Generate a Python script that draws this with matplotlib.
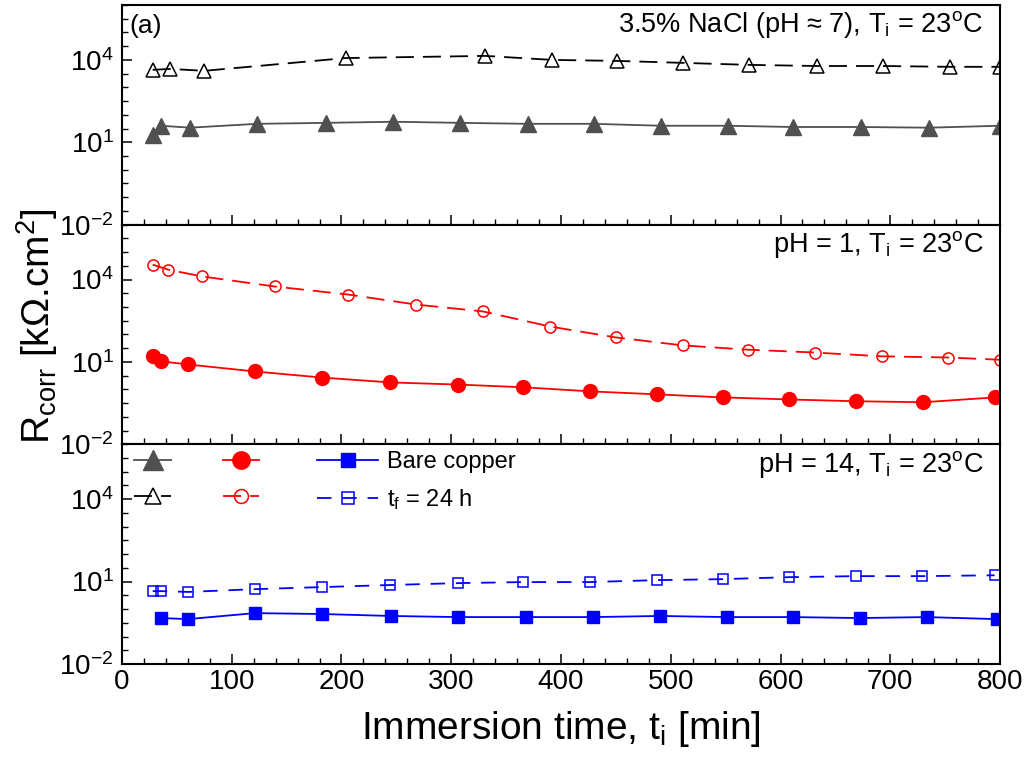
import matplotlib
matplotlib.use("Agg")
import matplotlib.pyplot as plt
from matplotlib.ticker import FixedLocator, MultipleLocator, NullFormatter

plt.rcParams["font.family"] = ["Liberation Sans", "DejaVu Sans"]
plt.rcParams["mathtext.fontset"] = "custom"
plt.rcParams["mathtext.rm"] = "Liberation Sans"
plt.rcParams["mathtext.it"] = "Liberation Sans:italic"

# --- data (R_corr in kOhm.cm2 vs immersion time in min) ---
# 3.5% NaCl
t_nacl_bare = [28, 36, 62, 123, 186, 247, 308, 370, 430, 491, 552, 611, 673, 735, 800]
r_nacl_bare = [18.7, 40, 34, 47, 51, 56, 51, 47, 47, 40, 40, 36, 36, 34, 40]
t_nacl_24h = [28, 44, 75, 204, 331, 392, 451, 511, 571, 633, 693, 754, 800]
r_nacl_24h = [4350, 4700, 4000, 11700, 14000, 10000, 9200, 7800, 6600, 6000, 6000, 5600, 5600]

# pH 1
t_ph1_bare = [28, 36, 60, 121, 182, 244, 306, 365, 426, 487, 548, 608, 669, 730, 795]
r_ph1_bare = [16, 10.5, 8.1, 4.5, 2.7, 1.8, 1.5, 1.2, 0.85, 0.66, 0.51, 0.43, 0.37, 0.34, 0.51]
t_ph1_24h = [28, 42, 73, 139, 206, 268, 329, 390, 450, 511, 570, 631, 692, 753, 800]
r_ph1_24h = [35000, 23000, 13000, 5600, 2850, 1230, 690, 195, 78, 40, 28, 22, 16, 14.5, 12]

# pH 14
t_ph14_bare = [36, 60, 121, 182, 245, 306, 368, 429, 490, 551, 611, 672, 733, 797]
r_ph14_bare = [0.47, 0.43, 0.71, 0.66, 0.56, 0.51, 0.51, 0.51, 0.56, 0.51, 0.51, 0.47, 0.51, 0.43]
t_ph14_24h = [28, 36, 60, 121, 182, 244, 306, 365, 426, 487, 548, 608, 669, 729, 795]
r_ph14_24h = [4.5, 4.5, 4.2, 5.3, 6.3, 7.5, 8.8, 9.6, 9.6, 11.3, 12.3, 14.5, 15.8, 15.8, 17]

PANEL_TEXT = [
    "3.5% NaCl (pH \u2248 7), T$_\\mathregular{i}$ = 23$^\\mathregular{o}$C",
    r"pH = 1, T$_\mathregular{i}$ = 23$^\mathregular{o}$C",
    r"pH = 14, T$_\mathregular{i}$ = 23$^\mathregular{o}$C",
]
Y_MAJOR = [1e-2, 1e1, 1e4]
Y_LABELS = [r"$\mathregular{10^{-2}}$", r"$\mathregular{10^{1}}$", r"$\mathregular{10^{4}}$"]

GRAY = "#505050"
RED = "#ff0000"
BLUE = "#0000ff"
DASH = (10, 5)

fig = plt.figure(figsize=(10.31, 7.57), dpi=100)
gs = fig.add_gridspec(3, 1, left=0.1183, right=0.970, top=0.9934, bottom=0.1229, hspace=0)
axes = [fig.add_subplot(gs[i]) for i in range(3)]

ax0, ax1, ax2 = axes
ax0.plot(t_nacl_bare, r_nacl_bare, color=GRAY, lw=1.3, marker="^", ms=11,
         mfc=GRAY, mec=GRAY, label=" ")
ax0.plot(t_nacl_24h, r_nacl_24h, color="black", lw=1.3, dashes=DASH, marker="^",
         ms=9.5, mfc="none", mec="black", mew=1.1, label=" ")
ax1.plot(t_ph1_bare, r_ph1_bare, color=RED, lw=1.3, marker="o", ms=10,
         mfc=RED, mec=RED, label=" ")
ax1.plot(t_ph1_24h, r_ph1_24h, color=RED, lw=1.3, dashes=DASH, marker="o",
         ms=8, mfc="none", mec=RED, mew=1.1, label=" ")
ax2.plot(t_ph14_bare, r_ph14_bare, color=BLUE, lw=1.3, marker="s", ms=8.5,
         mfc=BLUE, mec=BLUE, label="Bare copper")
ax2.plot(t_ph14_24h, r_ph14_24h, color=BLUE, lw=1.3, dashes=(8, 6), marker="s",
         ms=7, mfc="none", mec=BLUE, mew=1.1, label=r"t$_\mathregular{f}$ = 24 h")

minor_y = [10 ** (k / 2) for k in range(-4, 13) if k % 6 != 2]

for i, ax in enumerate(axes):
    ax.set_yscale("log")
    ax.set_ylim(1e-2, 1e6)
    ax.set_xlim(0, 800)
    ax.yaxis.set_major_locator(FixedLocator(Y_MAJOR))
    ax.set_yticklabels(Y_LABELS)
    ax.yaxis.set_minor_locator(FixedLocator(minor_y))
    ax.yaxis.set_minor_formatter(NullFormatter())
    ax.xaxis.set_major_locator(MultipleLocator(100))
    ax.xaxis.set_minor_locator(MultipleLocator(20))
    ax.tick_params(axis="both", which="both", direction="in", top=False, right=False)
    ax.tick_params(axis="both", which="major", length=7, width=1.1, labelsize=20)
    ax.tick_params(axis="both", which="minor", length=4, width=1.0)
    ax.tick_params(axis="y", which="major", pad=6)
    for sp in ax.spines.values():
        sp.set_linewidth(1.5)
    if i < 2:
        ax.tick_params(axis="x", labelbottom=False)
    ax.text(0.981, 0.91, PANEL_TEXT[i], transform=ax.transAxes, ha="right",
            va="center", fontsize=19.5)

ax0.text(0.009, 0.905, "(a)", transform=ax0.transAxes, ha="left", va="center", fontsize=19)

ax2.set_xlabel(r"Immersion time, t$_\mathregular{i}$ [min]", fontsize=28, labelpad=10)
fig.text(0.036, 0.569, r"R$_\mathregular{corr}$ [k$\Omega$.cm$^\mathregular{2}$]",
         rotation=90, ha="center", va="center", fontsize=28)

# legend: first two columns without text, third column with labels
h0, l0 = ax0.get_legend_handles_labels()
h1, l1 = ax1.get_legend_handles_labels()
h2, l2 = ax2.get_legend_handles_labels()
leg_a = ax2.legend(h0 + h1, ["", "", "", ""], ncol=2, loc="upper left",
                   bbox_to_anchor=(0.014, 0.97), frameon=False, fontsize=17,
                   handlelength=1.55, handletextpad=0.0, columnspacing=2.2,
                   labelspacing=0.62, borderpad=0, borderaxespad=0, markerscale=1.25)
ax2.add_artist(leg_a)
ax2.legend(h2, l2, loc="upper left", bbox_to_anchor=(0.222, 0.97), frameon=False,
           fontsize=17, handlelength=2.6, handletextpad=0.35, labelspacing=0.62,
           borderpad=0, borderaxespad=0, markerscale=1.2)

fig.savefig("out.png", dpi=100)
